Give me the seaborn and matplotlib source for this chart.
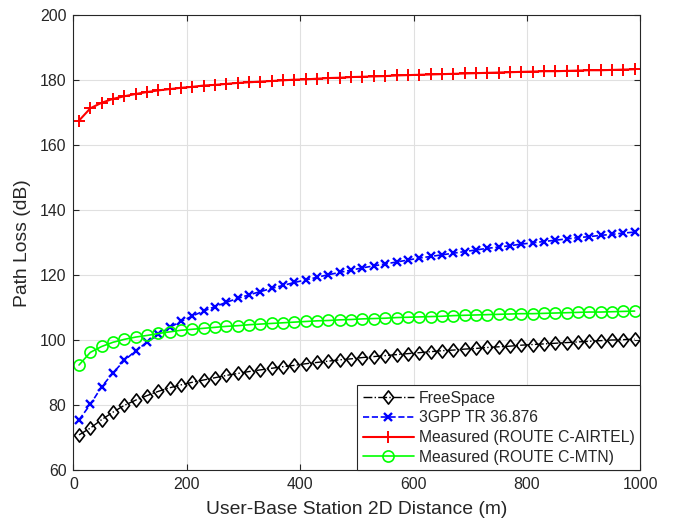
import numpy as np
import pandas as pd
import matplotlib
matplotlib.use("Agg")
import matplotlib.pyplot as plt
from matplotlib.path import Path
import seaborn as sns

# ---------------- data ----------------
distance = list(range(10, 1000, 20))  # 10, 30, ..., 990 m

freespace = [70.9, 73.0, 75.6, 77.9, 80.0, 81.6, 83.0, 84.3, 85.4, 86.3,
             87.1, 87.8, 88.5, 89.2, 89.8, 90.4, 90.9, 91.4, 91.9, 92.3,
             92.8, 93.2, 93.6, 94.0, 94.3, 94.7, 95.0, 95.3, 95.6, 95.9,
             96.2, 96.5, 96.8, 97.0, 97.3, 97.5, 97.8, 98.0, 98.2, 98.5,
             98.7, 98.9, 99.1, 99.3, 99.5, 99.7, 99.9, 100.1, 100.2, 100.4]

gpp = [75.5, 80.3, 85.7, 90.0, 93.8, 96.8, 99.4, 101.8, 104.0, 105.8,
       107.5, 109.0, 110.4, 111.7, 112.9, 114.0, 115.0, 116.0, 116.9, 117.8,
       118.6, 119.4, 120.2, 120.9, 121.6, 122.3, 122.9, 123.5, 124.1, 124.7,
       125.3, 125.8, 126.3, 126.8, 127.3, 127.8, 128.3, 128.7, 129.1, 129.6,
       130.0, 130.4, 130.8, 131.2, 131.6, 131.9, 132.3, 132.6, 133.0, 133.3]

airtel = [167.6, 171.4, 173.1, 174.3, 175.1, 175.8, 176.4, 176.9, 177.3, 177.7,
          178.0, 178.4, 178.6, 178.9, 179.2, 179.4, 179.6, 179.8, 180.0, 180.2,
          180.3, 180.5, 180.7, 180.8, 181.0, 181.1, 181.2, 181.3, 181.5, 181.6,
          181.7, 181.8, 181.9, 182.0, 182.1, 182.2, 182.3, 182.4, 182.5, 182.6,
          182.7, 182.8, 182.8, 182.9, 183.0, 183.1, 183.1, 183.2, 183.3, 183.4]

mtn = [92.4, 96.3, 98.1, 99.4, 100.3, 101.0, 101.5, 102.1, 102.6, 103.1,
       103.4, 103.7, 104.0, 104.3, 104.5, 104.8, 105.0, 105.2, 105.4, 105.6,
       105.8, 106.0, 106.1, 106.3, 106.4, 106.6, 106.7, 106.8, 107.0, 107.1,
       107.2, 107.3, 107.4, 107.6, 107.7, 107.8, 107.9, 108.0, 108.1, 108.2,
       108.2, 108.3, 108.4, 108.5, 108.6, 108.7, 108.7, 108.8, 108.9, 109.0]

labels = ["FreeSpace", "3GPP TR 36.876",
          "Measured (ROUTE C-AIRTEL)", "Measured (ROUTE C-MTN)"]
x_ticks = [0, 200, 400, 600, 800, 1000]
y_ticks = [60, 80, 100, 120, 140, 160, 180, 200]

# ---------------- style ----------------
sns.set_style("ticks")
plt.rcParams["font.family"] = ["Liberation Sans", "DejaVu Sans"]
dark = "#262626"

fig = plt.figure(figsize=(6.86, 5.30), dpi=100)
ax = fig.add_axes([0.1069, 0.1126, 0.9334 - 0.1069, 0.9711 - 0.1126])

diamond = Path([(0, 1), (0.78, 0), (0, -1), (-0.78, 0), (0, 1)],
               [Path.MOVETO, Path.LINETO, Path.LINETO, Path.LINETO, Path.CLOSEPOLY])

sns.lineplot(x=distance, y=freespace, ax=ax, color="k", linestyle="-.",
             linewidth=1.0, marker=diamond, markersize=9.5,
             markerfacecolor="none", markeredgecolor="k", markeredgewidth=1.2,
             label=labels[0], errorbar=None)
sns.lineplot(x=distance, y=gpp, ax=ax, color="#0000ff", linestyle="--",
             linewidth=1.2, marker="x", markersize=5.5,
             markeredgecolor="#0000ff", markeredgewidth=1.7,
             label=labels[1], errorbar=None)
sns.lineplot(x=distance, y=airtel, ax=ax, color="#ff0000", linestyle="-",
             linewidth=1.5, marker="+", markersize=8.5,
             markeredgecolor="#ff0000", markeredgewidth=1.4,
             label=labels[2], errorbar=None)
sns.lineplot(x=distance, y=mtn, ax=ax, color="#00ff00", linestyle="-",
             linewidth=1.2, marker="o", markersize=8,
             markerfacecolor="none", markeredgecolor="#00ff00", markeredgewidth=1.2,
             label=labels[3], errorbar=None)

ax.set_xlim(0, 1000)
ax.set_ylim(60, 200)
ax.set_xticks(x_ticks)
ax.set_yticks(y_ticks)
ax.grid(True, color="#e0e0e0", linewidth=0.8)
ax.set_axisbelow(True)
for s in ax.spines.values():
    s.set_visible(True)
    s.set_color(dark)
    s.set_linewidth(0.8)
ax.tick_params(direction="in", top=True, right=True, length=4, width=0.8,
               color=dark, labelcolor=dark, labelsize=11.4, pad=5)
ax.set_xlabel("User-Base Station 2D Distance (m)", fontsize=13.9, color=dark, labelpad=6)
ax.set_ylabel("Path Loss (dB)", fontsize=13.9, color=dark, labelpad=6)

leg = ax.legend(loc="lower right", fontsize=11.3, frameon=True, fancybox=False,
                framealpha=1, edgecolor=dark, borderaxespad=0, borderpad=0.35,
                handlelength=3.3, handletextpad=0.3, labelspacing=0.3,
                numpoints=1)
leg.get_frame().set_linewidth(0.8)

fig.savefig("out.png", dpi=100)
